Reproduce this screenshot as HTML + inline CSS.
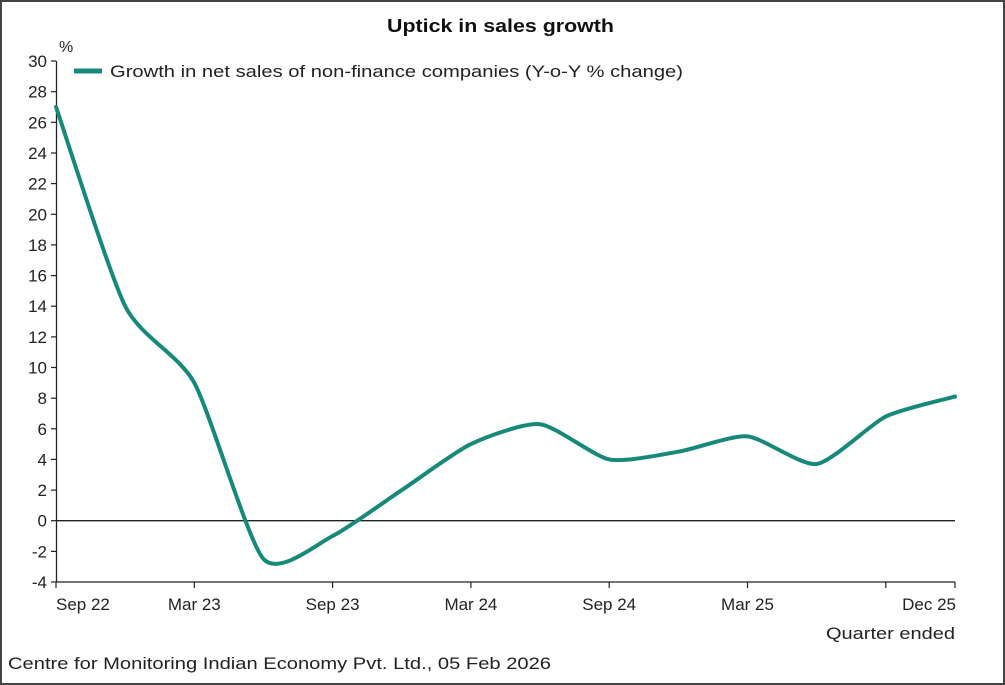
<!DOCTYPE html>
<html><head><meta charset="utf-8"><style>
html,body{margin:0;padding:0;background:#fff;}
svg{display:block;font-family:"Liberation Sans",Arial,sans-serif;}
</style></head><body>
<svg width="1005" height="685" viewBox="0 0 1005 685">
<rect x="1" y="1" width="1003" height="683" fill="#fff" stroke="#444" stroke-width="2"/>
<text x="387" y="32" font-size="18" font-weight="bold" fill="#111" textLength="227" lengthAdjust="spacingAndGlyphs">Uptick in sales growth</text>
<text x="59" y="52" font-size="16" fill="#222">%</text>
<g stroke="#222" stroke-width="1.3">
<line x1="56.5" y1="61" x2="56.5" y2="582"/>
<line x1="56" y1="520.7" x2="955" y2="520.7"/>
<line x1="56" y1="582" x2="955" y2="582"/>
</g>
<g stroke="#222" stroke-width="1.2">
<line x1="51" x2="56" y1="61" y2="61"/><line x1="51" x2="56" y1="91.7" y2="91.7"/><line x1="51" x2="56" y1="122.3" y2="122.3"/><line x1="51" x2="56" y1="153" y2="153"/><line x1="51" x2="56" y1="183.6" y2="183.6"/><line x1="51" x2="56" y1="214.3" y2="214.3"/><line x1="51" x2="56" y1="244.9" y2="244.9"/><line x1="51" x2="56" y1="275.6" y2="275.6"/><line x1="51" x2="56" y1="306.2" y2="306.2"/><line x1="51" x2="56" y1="336.9" y2="336.9"/><line x1="51" x2="56" y1="367.5" y2="367.5"/><line x1="51" x2="56" y1="398.2" y2="398.2"/><line x1="51" x2="56" y1="428.8" y2="428.8"/><line x1="51" x2="56" y1="459.4" y2="459.4"/><line x1="51" x2="56" y1="490.1" y2="490.1"/><line x1="51" x2="56" y1="520.7" y2="520.7"/><line x1="51" x2="56" y1="551.4" y2="551.4"/><line x1="51" x2="56" y1="582" y2="582"/>
</g>
<g stroke="#222" stroke-width="1.2">
<line x1="56" x2="56" y1="582" y2="588"/><line x1="194.3" x2="194.3" y1="582" y2="588"/><line x1="332.6" x2="332.6" y1="582" y2="588"/><line x1="470.9" x2="470.9" y1="582" y2="588"/><line x1="609.2" x2="609.2" y1="582" y2="588"/><line x1="747.5" x2="747.5" y1="582" y2="588"/><line x1="885.8" x2="885.8" y1="582" y2="588"/><line x1="955" x2="955" y1="582" y2="588"/>
</g>
<g font-size="17" fill="#222" text-anchor="end">
<text x="47" y="67">30</text><text x="47" y="97.7">28</text><text x="47" y="128.3">26</text><text x="47" y="159">24</text><text x="47" y="189.6">22</text><text x="47" y="220.3">20</text><text x="47" y="250.9">18</text><text x="47" y="281.6">16</text><text x="47" y="312.2">14</text><text x="47" y="342.9">12</text><text x="47" y="373.5">10</text><text x="47" y="404.2">8</text><text x="47" y="434.8">6</text><text x="47" y="465.4">4</text><text x="47" y="496.1">2</text><text x="47" y="526.7">0</text><text x="47" y="557.4">-2</text><text x="47" y="588">-4</text>
</g>
<g font-size="17" fill="#222" text-anchor="middle">
<text x="56" y="610" text-anchor="start">Sep 22</text><text x="194.3" y="610">Mar 23</text><text x="332.6" y="610">Sep 23</text><text x="470.9" y="610">Mar 24</text><text x="609.2" y="610">Sep 24</text><text x="747.5" y="610">Mar 25</text><text x="956" y="610" text-anchor="end">Dec 25</text>
</g>
<text x="826" y="639" font-size="17" fill="#222" textLength="129" lengthAdjust="spacingAndGlyphs">Quarter ended</text>
<text x="8" y="669" font-size="17" fill="#222" textLength="543" lengthAdjust="spacingAndGlyphs">Centre for Monitoring Indian Economy Pvt. Ltd., 05 Feb 2026</text>
<line x1="74" y1="71" x2="102" y2="71" stroke="#16897a" stroke-width="5"/>
<text x="110" y="77" font-size="17" fill="#222" textLength="573" lengthAdjust="spacingAndGlyphs">Growth in net sales of non-finance companies (Y-o-Y % change)</text>
<path fill="none" stroke="#16897a" stroke-width="4" stroke-linejoin="round" stroke-linecap="round" d="M56,106.9 C63.7,129 109.8,275.5 125.2,306.2 C140.6,336.9 178.9,354.7 194.3,382.8 C209.7,410.9 248.1,542 263.5,559 C278.9,576 317.2,543.7 332.6,536 C348,528.3 386.4,500.3 401.8,490.1 C417.2,479.9 455.5,451.4 470.9,444.1 C486.3,436.8 524.7,422.5 540.1,424.2 C555.5,425.9 593.8,456.3 609.2,459.4 C624.6,462.5 663,454.2 678.4,451.7 C693.8,449.2 732.1,435 747.5,436.4 C762.9,437.8 801.3,466.2 816.7,464 C832.1,461.8 870.4,424 885.8,416.5 C901.2,409 947.3,398.8 955,396.6"/>
</svg>
</body></html>
